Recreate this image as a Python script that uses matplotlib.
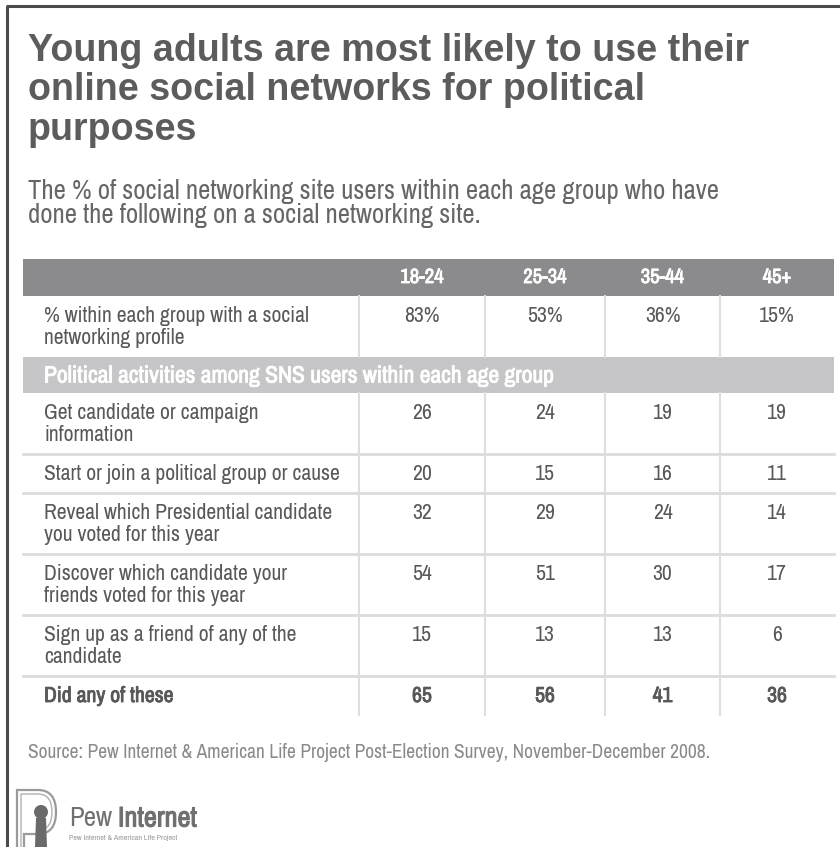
import matplotlib
matplotlib.use('Agg')
import matplotlib.pyplot as plt
import matplotlib.patheffects as pe
from matplotlib.patches import Rectangle, Circle, Polygon, PathPatch
from matplotlib.path import Path

# chart text and values
title_lines = ['Young adults are most likely to use their',
               'online social networks for political',
               'purposes']
subtitle_lines = ['The % of social networking site users within each age group who have',
                  'done the following on a social networking site.']
age_groups = ['18-24', '25-34', '35-44', '45+']
profile_label = ['% within each group with a social', 'networking profile']
profile_pct = [83, 53, 36, 15]
section_label = 'Political activities among SNS users within each age group'
activities = [['Get candidate or campaign', 'information'],
              ['Start or join a political group or cause'],
              ['Reveal which Presidential candidate', 'you voted for this year'],
              ['Discover which candidate your', 'friends voted for this year'],
              ['Sign up as a friend of any of the', 'candidate']]
get_info = [26, 24, 19, 19]
join_group = [20, 15, 16, 11]
reveal_vote = [32, 29, 24, 14]
discover_vote = [54, 51, 30, 17]
friend_candidate = [15, 13, 13, 6]
any_label = 'Did any of these'
any_values = [65, 56, 41, 36]
source = 'Source: Pew Internet & American Life Project Post-Election Survey, November-December 2008.'

activity_values = [get_info, join_group, reveal_vote, discover_vote, friend_candidate]

W, H = 840, 847
fig = plt.figure(figsize=(W / 100, H / 100), dpi=100)
ax = fig.add_axes([0, 0, 1, 1])
ax.set_xlim(0, W)
ax.set_ylim(H, 0)
ax.axis('off')
renderer = fig.canvas.get_renderer()

SANS = ['Liberation Sans', 'DejaVu Sans']
NARROW = ['Liberation Sans Narrow', 'Archivo Narrow', 'DejaVu Sans']
TXT = '#585858'


def fit(t, width):
    # scale a text so it spans the wanted pixel width
    w = t.get_window_extent(renderer).width
    t.set_fontsize(t.get_fontsize() * width / w)
    return t.get_fontsize()


def heavy(color, lw=0.6):
    # the narrow family has no bold face here, so thicken the strokes
    return [pe.withStroke(linewidth=lw, foreground=color)]


# frame
ax.plot([7, 7], [6, H], color='#4a4a4a', lw=2.2, solid_capstyle='butt')
ax.plot([6, W], [6.5, 6.5], color='#4a4a4a', lw=2.2, solid_capstyle='butt')

# title
t = ax.text(28, 51, title_lines[0], fontsize=20, family=SANS, weight='bold',
            color='#5c5c5c', va='center')
tsize = fit(t, 720)
for i, line in enumerate(title_lines[1:], 1):
    ax.text(28, 51 + 39.5 * i, line, fontsize=tsize, family=SANS, weight='bold',
            color='#5c5c5c', va='center')

# subtitle
t = ax.text(28, 191, subtitle_lines[0], fontsize=14, family=NARROW, color='#666666', va='center')
ssize = fit(t, 687)
ax.text(28, 216, subtitle_lines[1], fontsize=ssize, family=NARROW, color='#666666', va='center')

# table geometry
left, right = 23, 834
col_edges = [359, 485, 605, 720, right]
centers = [(a + b) / 2 for a, b in zip(col_edges[:-1], col_edges[1:])]
lx = 44
pad, lsp = 20, 22

probe = ax.text(lx, 0, activities[1][0], fontsize=12, family=NARROW)
fs = fit(probe, 296)
probe.remove()

# header
y = 259
ax.add_patch(Rectangle((left, y), right - left, 37, color='#8b8b8d', lw=0))
for c, g in zip(centers, age_groups):
    ax.text(c, y + 18.5, g, fontsize=fs * 0.95, family=NARROW, color='white',
            ha='center', va='center', path_effects=heavy('white'))
y += 37

vlines = []


def row(y, lines, vals, fmt='{}', bold=False):
    h = 39 if len(lines) == 1 else 61
    fx = heavy(TXT) if bold else None
    for k, line in enumerate(lines):
        ax.text(lx, y + pad + lsp * k, line, fontsize=fs, family=NARROW,
                color=TXT, va='center', path_effects=fx)
    for c, v in zip(centers, vals):
        ax.text(c, y + pad, fmt.format(v), fontsize=fs, family=NARROW,
                color=TXT, ha='center', va='center', path_effects=fx)
    vlines.append((y, y + h))
    return y + h


y = row(y, profile_label, profile_pct, '{}%')

# section band
ax.add_patch(Rectangle((left, y), right - left, 36, color='#c6c6c8', lw=0))
st = ax.text(lx, y + 19, section_label, fontsize=fs, family=NARROW,
             color='white', va='center', path_effects=heavy('white'))
fit(st, 508)
y += 36

for lines, vals in zip(activities, activity_values):
    y = row(y, lines, vals)
    ax.plot([left, right], [y, y], color='#dcdcdc', lw=2, zorder=1)
y = row(y, [any_label], any_values, bold=True)

for y0, y1 in vlines:
    for x in col_edges[:-1]:
        ax.plot([x, x], [y0, y1], color='#dedede', lw=1.5, zorder=1)

# source
t = ax.text(28, 752, source, fontsize=11, family=NARROW, color='#8a8a8a', va='center')
fit(t, 684)

# logo
outer = Path([(17, 847), (17, 790), (38, 790), (56, 790), (56, 812), (56, 834), (38, 834),
              (24, 834), (24, 847)],
             [Path.MOVETO, Path.LINETO, Path.LINETO, Path.CURVE3, Path.CURVE3, Path.CURVE3,
              Path.CURVE3, Path.LINETO, Path.LINETO])
ax.add_patch(PathPatch(outer, fill=False, ec='#9a9a9a', lw=1.6))
inner = Path([(21, 847), (21, 794), (38, 794), (52, 794), (52, 812), (52, 830), (38, 830)],
             [Path.MOVETO, Path.LINETO, Path.LINETO, Path.CURVE3, Path.CURVE3, Path.CURVE3,
              Path.CURVE3])
ax.add_patch(PathPatch(inner, fill=False, ec='#b0b0b0', lw=1.0))
ax.add_patch(Circle((41, 812), 7, color='#6a6a6a', lw=0))
ax.add_patch(Polygon([(36, 818), (46, 818), (47, 847), (35, 847)], color='#6a6a6a', lw=0))
pew = ax.text(69, 819, 'Pew', fontsize=16, family=NARROW, color='#707070', va='center')
fit(pew, 43)
inet = ax.text(118, 819, 'Internet', fontsize=16, family=NARROW, color='#707070',
               va='center', path_effects=heavy('#707070', 0.8))
fit(inet, 79)
small = ax.text(69, 838, 'Pew Internet & American Life Project', fontsize=5, family=NARROW,
                color='#999999', va='center')
fit(small, 108)

fig.savefig('out.png', dpi=100, facecolor='white')
